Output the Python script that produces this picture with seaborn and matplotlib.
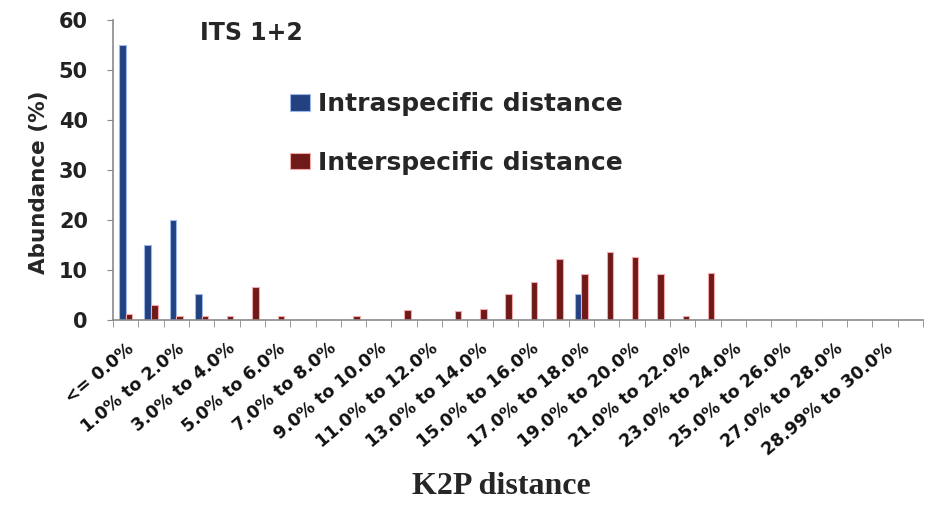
import numpy as np
import pandas as pd
import seaborn as sns
import matplotlib
matplotlib.use("Agg")
import matplotlib.pyplot as plt

# K2P distance bins (32 classes)
categories = ["<= 0.0%"] + [f"{k - 1}.0% to {k}.0%" for k in range(1, 29)] + [
    "28.0% to 28.99%", "28.99% to 30.0%", "> 30.0%"]

intraspecific = [55, 15, 20, 5.2, 0, 0, 0, 0, 0, 0, 0, 0, 0, 0, 0, 0,
                 0, 0, 5.2, 0, 0, 0, 0, 0, 0, 0, 0, 0, 0, 0, 0, 0]
interspecific = [1.3, 3.0, 0.8, 0.8, 0.8, 6.7, 0.8, 0, 0, 0.8, 0, 2.1, 0, 1.8, 2.3, 5.2,
                 7.6, 12.3, 9.3, 13.6, 12.6, 9.3, 0.9, 9.4, 0, 0, 0, 0, 0, 0, 0, 0]

series_names = ["Intraspecific distance", "Interspecific distance"]
y_ticks = [0, 10, 20, 30, 40, 50, 60]

df = pd.DataFrame({
    "bin": categories * 2,
    "series": [series_names[0]] * len(categories) + [series_names[1]] * len(categories),
    "abundance": intraspecific + interspecific,
})

sns.set_style("white")
plt.rcParams["font.family"] = ["DejaVu Sans"]

fig = plt.figure(figsize=(9.32, 5.17), dpi=100)
ax = fig.add_axes([113 / 932, 1 - 320 / 517, (923 - 113) / 932, 300 / 517])

sns.barplot(data=df, x="bin", y="abundance", hue="series", order=categories,
            hue_order=series_names, palette=["#123c90", "#7d0b0b"],
            width=0.52, dodge=True, ax=ax, edgecolor="none", legend=True)

# soft light rim around each bar
for patch in ax.patches:
    fc = patch.get_facecolor()
    if fc[2] > fc[0]:
        patch.set_edgecolor("#9db8e6")
    else:
        patch.set_edgecolor("#f2aaaa")
    patch.set_linewidth(0.8)

ax.set_xlim(-0.5, len(categories) - 0.5)
ax.set_ylim(0, 60)
ax.set_yticks(y_ticks)
ax.set_yticklabels([str(t) for t in y_ticks], fontsize=15, fontweight="bold", color="#222222")

ax.set_xticks(range(0, len(categories), 2))
ax.set_xticklabels(categories[::2], rotation=40, ha="right", rotation_mode="anchor",
                   fontsize=12.5, fontweight="bold", color="#111111")
ax.set_xticks(np.arange(-0.5, len(categories), 1), minor=True)
ax.tick_params(axis="x", which="major", length=0, pad=14)
ax.tick_params(axis="x", which="minor", length=5, color="#888888", direction="out", bottom=True)
ax.tick_params(axis="y", length=4, color="#888888", direction="out", left=True, pad=14)

for side in ["top", "right"]:
    ax.spines[side].set_visible(False)
for side in ["left", "bottom"]:
    ax.spines[side].set_color("#8a8a8a")
    ax.spines[side].set_linewidth(1.2)

ax.set_xlabel("")
ax.set_ylabel("Abundance (%)", fontsize=15.5, fontweight="bold")
ax.yaxis.set_label_coords((49 - 113) / 810, (320 - 182) / 300)

ax.text(251 / 932, 1 - 33 / 517, "ITS 1+2", transform=fig.transFigure,
        ha="center", va="center", fontsize=17, fontweight="bold")

handles, labels = ax.get_legend_handles_labels()
ax.legend(handles, labels, loc="upper left", bbox_to_anchor=(277 / 932, 1 - 80 / 517),
          bbox_transform=fig.transFigure, frameon=False, borderpad=0,
          prop={"weight": "bold", "size": 18}, handlelength=0.8, handleheight=0.64,
          handletextpad=0.32, labelspacing=1.38)

fig.text(501 / 932, 1 - 487 / 517, "K2P distance", ha="center", va="center",
         fontsize=23, fontweight="bold", family=["Liberation Serif", "DejaVu Serif"])

fig.savefig("out.png", dpi=100)
